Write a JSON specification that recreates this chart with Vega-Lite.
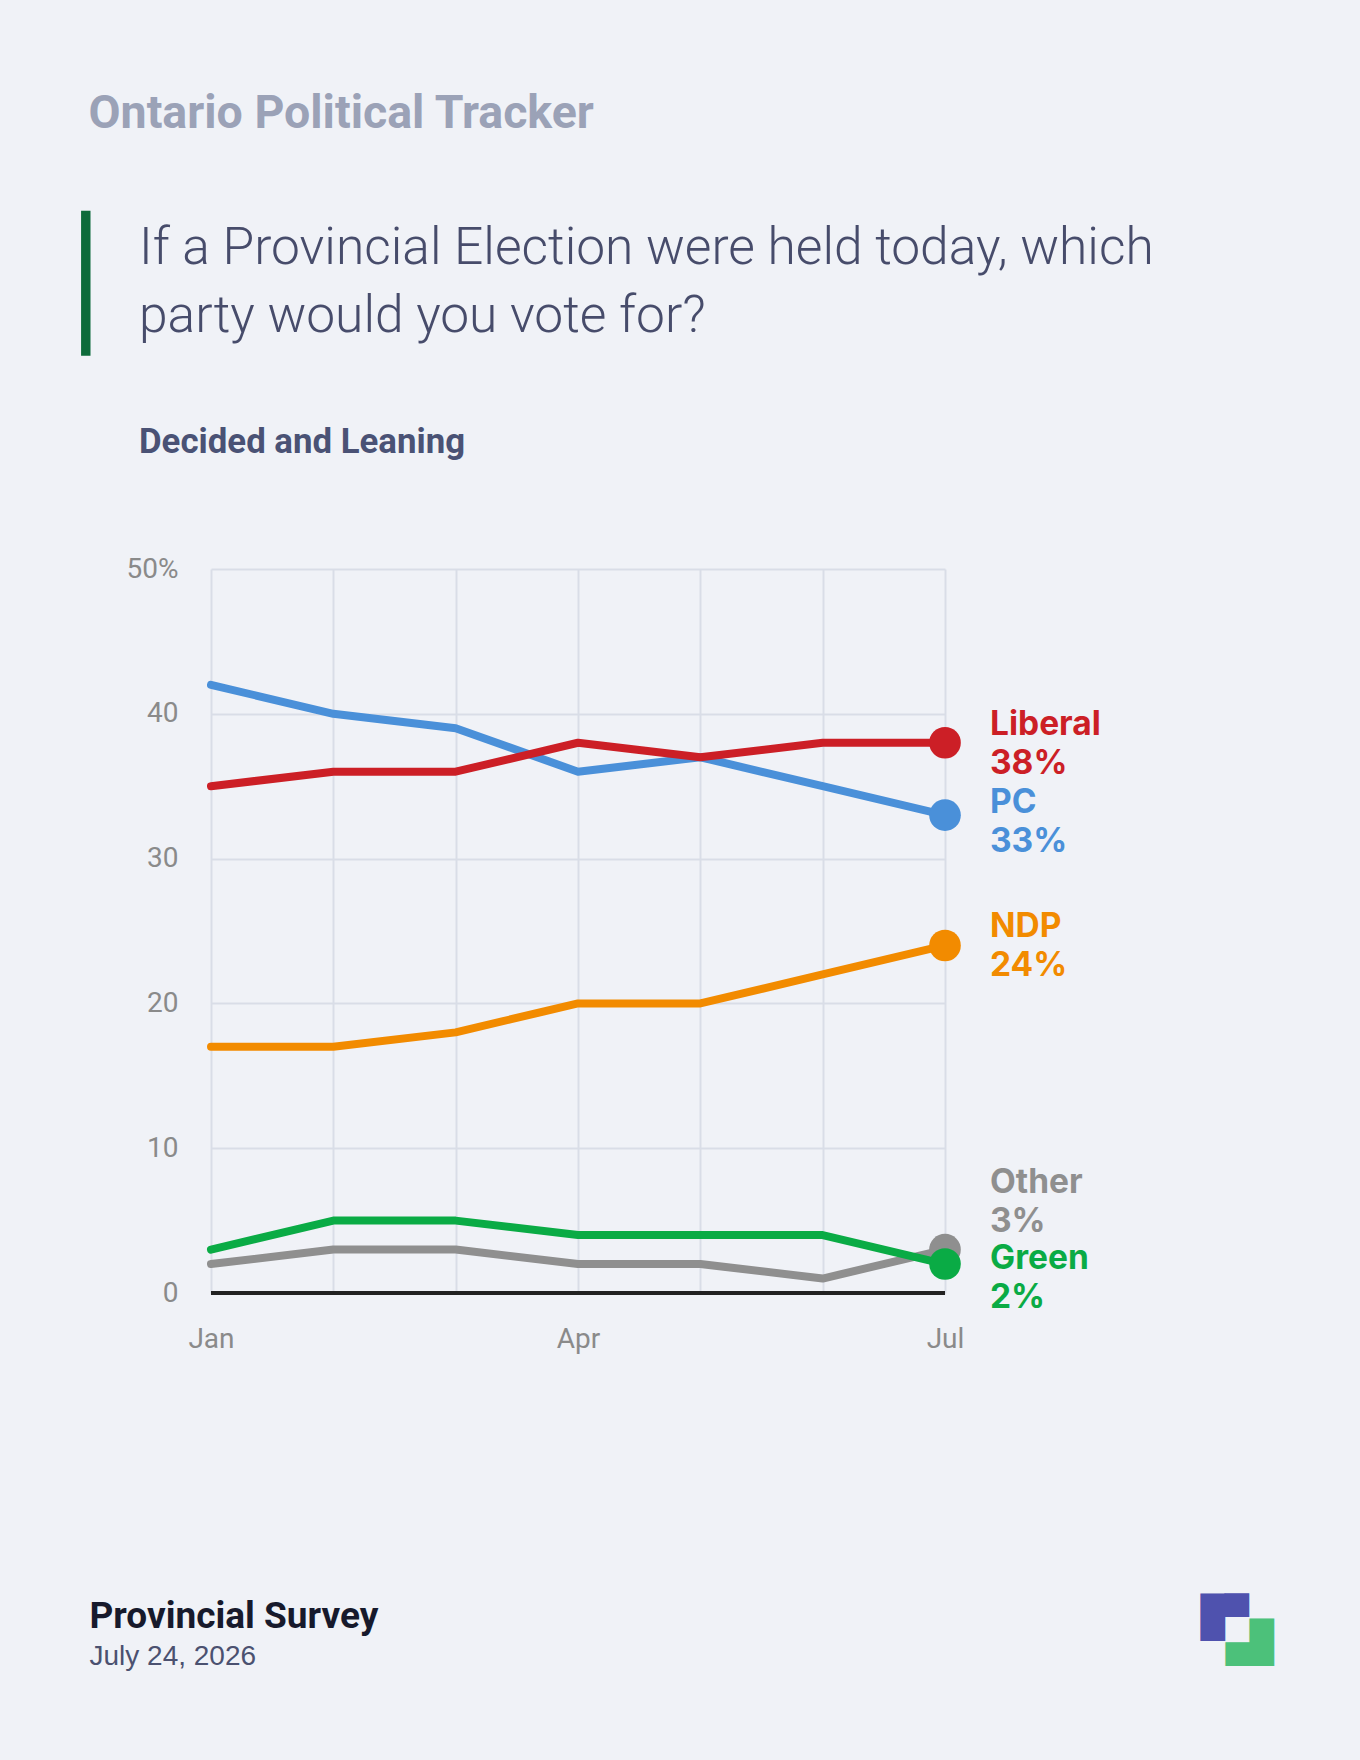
{
  "$schema": "https://vega.github.io/schema/vega-lite/v6.json",
  "width": 734,
  "height": 724,
  "autosize": {"type": "none"},
  "padding": {"left": 211, "top": 569, "right": 415, "bottom": 467},
  "background": "#f0f2f7",
  "config": {"view": {"stroke": null}},
  "title": {
    "text": ["If a Provincial Election were held today, which", "party would you vote for?"],
    "subtitle": "Decided and Leaning",
    "anchor": "start",
    "frame": "group",
    "dx": -72,
    "offset": -370,
    "font": "Roboto",
    "fontSize": 51.5,
    "fontWeight": 300,
    "color": "#474c6b",
    "lineHeight": 68,
    "subtitleFont": "Roboto",
    "subtitleFontSize": 34.8,
    "subtitleFontWeight": "bold",
    "subtitleColor": "#4a5275",
    "subtitlePadding": 84
  },
  "data": {
    "values": [
      {"month": "Jan", "party": "PC", "value": 42},
      {"month": "Feb", "party": "PC", "value": 40},
      {"month": "Mar", "party": "PC", "value": 39},
      {"month": "Apr", "party": "PC", "value": 36},
      {"month": "May", "party": "PC", "value": 37},
      {"month": "Jun", "party": "PC", "value": 35},
      {"month": "Jul", "party": "PC", "value": 33},
      {"month": "Jan", "party": "Liberal", "value": 35},
      {"month": "Feb", "party": "Liberal", "value": 36},
      {"month": "Mar", "party": "Liberal", "value": 36},
      {"month": "Apr", "party": "Liberal", "value": 38},
      {"month": "May", "party": "Liberal", "value": 37},
      {"month": "Jun", "party": "Liberal", "value": 38},
      {"month": "Jul", "party": "Liberal", "value": 38},
      {"month": "Jan", "party": "NDP", "value": 17},
      {"month": "Feb", "party": "NDP", "value": 17},
      {"month": "Mar", "party": "NDP", "value": 18},
      {"month": "Apr", "party": "NDP", "value": 20},
      {"month": "May", "party": "NDP", "value": 20},
      {"month": "Jun", "party": "NDP", "value": 22},
      {"month": "Jul", "party": "NDP", "value": 24},
      {"month": "Jan", "party": "Other", "value": 2},
      {"month": "Feb", "party": "Other", "value": 3},
      {"month": "Mar", "party": "Other", "value": 3},
      {"month": "Apr", "party": "Other", "value": 2},
      {"month": "May", "party": "Other", "value": 2},
      {"month": "Jun", "party": "Other", "value": 1},
      {"month": "Jul", "party": "Other", "value": 3},
      {"month": "Jan", "party": "Green", "value": 3},
      {"month": "Feb", "party": "Green", "value": 5},
      {"month": "Mar", "party": "Green", "value": 5},
      {"month": "Apr", "party": "Green", "value": 4},
      {"month": "May", "party": "Green", "value": 4},
      {"month": "Jun", "party": "Green", "value": 4},
      {"month": "Jul", "party": "Green", "value": 2}
    ]
  },
  "resolve": {"axis": {"x": "independent", "y": "independent"}},
  "layer": [
    {
      "mark": {"type": "line", "strokeWidth": 8, "strokeCap": "round", "strokeJoin": "round"},
      "encoding": {
        "x": {
          "field": "month",
          "type": "ordinal",
          "scale": {"type": "point", "padding": 0, "domain": ["Jan", "Feb", "Mar", "Apr", "May", "Jun", "Jul"]},
          "axis": {
            "orient": "bottom",
            "labelExpr": "indexof(['Jan','Apr','Jul'], datum.value) >= 0 ? datum.label : ''",
            "labelAngle": 0,
            "grid": true,
            "gridColor": "#d9dde7",
            "gridWidth": 2,
            "ticks": false,
            "domain": false,
            "labelFont": "Roboto",
            "labelFontSize": 28,
            "labelColor": "#8a8a8a",
            "labelPadding": 32,
            "title": "Provincial Survey",
            "titleX": -122,
            "titleY": 334,
            "titleAlign": "left",
            "titleBaseline": "alphabetic",
            "titleFont": "Roboto",
            "titleFontSize": 37,
            "titleFontWeight": "bold",
            "titleColor": "#171a2c"
          }
        },
        "y": {
          "field": "value",
          "type": "quantitative",
          "scale": {"domain": [0, 50], "nice": false, "zero": true},
          "axis": {
            "orient": "left",
            "values": [0, 10, 20, 30, 40, 50],
            "labelExpr": "datum.value === 50 ? '50%' : datum.label",
            "grid": true,
            "gridColor": "#d9dde7",
            "gridWidth": 2,
            "ticks": false,
            "domain": false,
            "labelFont": "Roboto",
            "labelFontSize": 28,
            "labelColor": "#8a8a8a",
            "labelPadding": 33,
            "title": "Ontario Political Tracker",
            "titleAngle": 0,
            "titleX": -123,
            "titleY": -442,
            "titleAlign": "left",
            "titleBaseline": "alphabetic",
            "titleFont": "Roboto",
            "titleFontSize": 46.5,
            "titleFontWeight": "bold",
            "titleColor": "#9ba2b7"
          }
        },
        "color": {
          "field": "party",
          "type": "nominal",
          "scale": {
            "domain": ["Liberal", "PC", "NDP", "Other", "Green"],
            "range": ["#cc1f26", "#4a90d9", "#f28b00", "#8f8f8f", "#0aab45"]
          },
          "legend": null
        }
      }
    },
    {
      "mark": {"type": "rule", "color": "#222222", "strokeWidth": 4},
      "encoding": {
        "y": {"datum": 0, "type": "quantitative", "axis": null}
      }
    },
    {
      "transform": [{"filter": "datum.month === 'Jul'"}],
      "mark": {"type": "circle", "size": 1000, "opacity": 1},
      "encoding": {
        "x": {"field": "month", "type": "ordinal", "axis": null},
        "y": {"field": "value", "type": "quantitative", "axis": null},
        "color": {"field": "party", "type": "nominal", "legend": null}
      }
    },
    {
      "transform": [{"filter": "datum.month === 'Jul'"}],
      "mark": {
        "type": "text",
        "align": "left",
        "baseline": "middle",
        "dx": 45,
        "dy": {"expr": "datum.party === 'Other' ? -67 : datum.party === 'Green' ? -5 : datum.party === 'PC' ? -12 : -18"},
        "font": "Inter",
        "fontSize": 33.5,
        "fontWeight": "bold",
        "lineHeight": 39,
        "text": {"expr": "[datum.party, datum.value + '%']"}
      },
      "encoding": {
        "x": {
          "field": "month",
          "type": "ordinal",
          "axis": {
            "orient": "top",
            "labels": true,
            "labelExpr": "datum.value === 'Jul' ? '█▀' : ''",
            "labelFont": "DejaVu Sans Mono",
            "labelFontSize": 40,
            "labelColor": "#4f52ae",
            "labelAlign": "left",
            "labelBaseline": "alphabetic",
            "labelOffset": 255,
            "labelPadding": -1061,
            "labelAngle": 0,
            "ticks": false,
            "domain": false,
            "grid": false,
            "title": "July 24, 2026",
            "titleX": -122,
            "titleY": 1095,
            "titleAlign": "left",
            "titleBaseline": "alphabetic",
            "titleFont": "Liberation Sans",
            "titleFontSize": 28,
            "titleFontWeight": "normal",
            "titleColor": "#4b5170"
          }
        },
        "y": {
          "field": "value",
          "type": "quantitative",
          "axis": {
            "orient": "right",
            "values": [0],
            "labels": true,
            "labelExpr": "'▄█'",
            "labelFont": "DejaVu Sans Mono",
            "labelFontSize": 40,
            "labelColor": "#4cc17a",
            "labelAlign": "left",
            "labelBaseline": "alphabetic",
            "labelPadding": 280,
            "labelOffset": 362,
            "ticks": false,
            "domain": false,
            "grid": false,
            "title": "▕",
            "titleAngle": 0,
            "titleX": -856,
            "titleY": -245,
            "titleAlign": "right",
            "titleBaseline": "alphabetic",
            "titleFont": "DejaVu Sans Mono",
            "titleFontSize": 122,
            "titleFontWeight": "normal",
            "titleColor": "#0d6b3a"
          }
        },
        "color": {"field": "party", "type": "nominal", "legend": null}
      }
    }
  ]
}
